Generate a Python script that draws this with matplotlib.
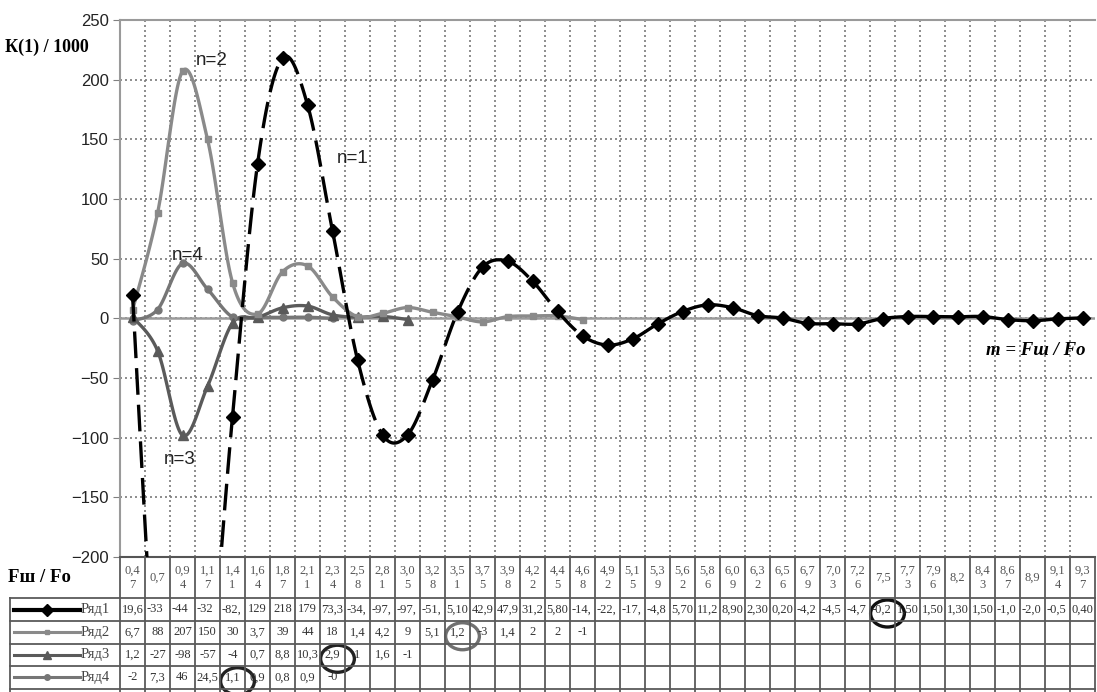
import matplotlib
matplotlib.use('Agg')
import matplotlib.pyplot as plt
import numpy as np
from matplotlib.patches import Ellipse

# Fш / Fo ratios, one per table column
ratios = [0.47, 0.7, 0.94, 1.17, 1.41, 1.64, 1.87, 2.11, 2.34, 2.58, 2.81, 3.05,
          3.28, 3.51, 3.75, 3.98, 4.22, 4.45, 4.68, 4.92, 5.15, 5.39, 5.62, 5.86,
          6.09, 6.32, 6.56, 6.79, 7.03, 7.26, 7.5, 7.73, 7.96, 8.2, 8.43, 8.67,
          8.9, 9.14, 9.37]

# K(1) / 1000 for harmonics n = 1..4
ryad1 = [19.64, -331, -442, -323, -82.41, 129, 218, 179, 73.35, -34.52, -97.53,
         -97.81, -51.72, 5.10, 42.90, 47.90, 31.20, 5.80, -14.60, -22.40, -17.30,
         -4.80, 5.70, 11.28, 8.90, 2.30, 0.20, -4.20, -4.50, -4.70, -0.20, 1.50,
         1.50, 1.30, 1.50, -1.00, -2.00, -0.50, 0.40]
ryad2 = [6.7, 88, 207, 150, 30, 3.7, 39, 44, 18, 1.4, 4.2, 9, 5.1, 1.2, -3, 1.4,
         2, 2, -1]
ryad3 = [1.2, -27, -98, -57, -4, 0.7, 8.8, 10.3, 2.9, 1, 1.6, -1]
ryad4 = [-2, 7.3, 46, 24.5, 1.1, 0.9, 0.8, 0.9, -0.0]

series = [ryad1, ryad2, ryad3, ryad4]
names = ['Ряд1', 'Ряд2', 'Ряд3', 'Ряд4']
curve_labels = ['n=1', 'n=2', 'n=3', 'n=4']
colors = ['#000000', '#8a8a8a', '#5a5a5a', '#767676']
markers = ['D', 's', '^', 'o']
msizes = [7, 4, 7, 5]

# cells ringed by hand in the table: (row, column)
ringed = [(0, 30), (1, 13), (2, 8), (3, 4)]
ring_colors = ['#111111', '#707070', '#222222', '#222222']

W, H = 1097, 692
fig = plt.figure(figsize=(W / 100, H / 100), dpi=100)
fig.patch.set_facecolor('white')

left, right, top, bottom = 120, 1095, 20, 557
ax = fig.add_axes([left / W, 1 - bottom / H, (right - left) / W, (bottom - top) / H])
ncol = len(ratios)
ax.set_xlim(0, ncol)
ax.set_ylim(-200, 250)

# pixel scale used for Excel-like smoothing
sx = (right - left) / ncol
sy = (bottom - top) / 450.0


def smooth_pieces(vals):
    """Cubic Bezier pieces between neighbouring points (Catmull-Rom tangents)."""
    n = len(vals)
    P = np.column_stack([(np.arange(n) + 0.5) * sx, np.asarray(vals) * sy])
    t = np.linspace(0, 1, 40)[:, None]
    pieces = []
    for i in range(n - 1):
        p0 = P[max(i - 1, 0)]
        p1, p2 = P[i], P[i + 1]
        p3 = P[min(i + 2, n - 1)]
        c1 = p1 + (p2 - p0) / 6
        c2 = p2 - (p3 - p1) / 6
        b = ((1 - t) ** 3) * p1 + 3 * ((1 - t) ** 2) * t * c1 + 3 * (1 - t) * t ** 2 * c2 + t ** 3 * p2
        pieces.append((b[:, 0] / sx, b[:, 1] / sy))
    return pieces


ax.set_yticks(range(-200, 251, 50))
ax.set_xticks(np.arange(1, ncol))
ax.tick_params(axis='x', length=0, labelbottom=False)
ax.tick_params(axis='y', length=5, color='#808080', labelsize=12, labelcolor='#222222', pad=3)
for lab in ax.get_yticklabels():
    lab.set_fontfamily('Liberation Sans')
ax.grid(True, color='#7a7a7a', linestyle=(0, (1.2, 1.8)), linewidth=1.2)
ax.set_axisbelow(True)
for side in ['top', 'left']:
    ax.spines[side].set_color('#9a9a9a')
    ax.spines[side].set_linewidth(1.5)
ax.spines['right'].set_visible(False)
ax.spines['bottom'].set_color('#555555')
ax.spines['bottom'].set_linewidth(1.5)
ax.axhline(0, color='#9a9a9a', linewidth=1.8, zorder=1.5)

# curves: n=1 dashed (pattern restarts on every segment), the rest solid
for k in range(len(series) - 1, -1, -1):
    vals = series[k]
    xs = np.arange(len(vals)) + 0.5
    z = 4 if k == 0 else 3
    for px, py in smooth_pieces(vals):
        if k == 0:
            ax.plot(px, py, color=colors[k], linewidth=2.4, dashes=(8, 3),
                    solid_capstyle='butt', dash_capstyle='butt', zorder=z)
        else:
            ax.plot(px, py, color=colors[k], linewidth=2.4, zorder=z)
    ax.plot(xs, vals, linestyle='none', marker=markers[k], markersize=msizes[k],
            color=colors[k], zorder=z + 0.1)

label_pos = [(9.3, 134), (3.65, 216), (2.4, -118), (2.7, 53)]
for lab, (lx, ly) in zip(curve_labels, label_pos):
    ax.text(lx, ly, lab, fontsize=13.5, family='Liberation Sans', color='#222222',
            ha='center', va='center')
ax.text(38.6, -27, 'm = Fш / Fo', fontsize=13.5, family='Liberation Serif',
        fontweight='bold', fontstyle='italic', ha='right', va='center')

fig.text(5 / W, 1 - 47 / H, 'К(1) / 1000', fontsize=13, family='Liberation Serif',
         fontweight='bold', ha='left', va='center')

# data table under the plot
tab_h = H - bottom
tax = fig.add_axes([left / W, 0, (right - left) / W, tab_h / H])
tax.set_xlim(0, ncol)
tax.set_ylim(tab_h, 0)
tax.axis('off')

row_edges = [41, 64, 86.5, 109, 131.5]
leg_left = (10 - left) / sx
line_kw = dict(color='#5a5a5a', linewidth=1.3, clip_on=False)
for i in range(ncol + 1):
    tax.plot([i, i], [0, tab_h], **line_kw)
for y in row_edges:
    tax.plot([leg_left, ncol], [y, y], **line_kw)
tax.plot([leg_left, leg_left], [row_edges[0], tab_h], **line_kw)

fig.text(8 / W, 1 - 577 / H, 'Fш / Fo', fontsize=13.5, family='Liberation Serif',
         fontweight='bold', ha='left', va='center')

renderer = fig.canvas.get_renderer()
avail = sx - 2.5


def cell_text(col, y0, y1, s, color):
    # a value too wide for its cell is left-aligned and cut off at the border
    yc = (y0 + y1) / 2
    t = tax.text(col + 0.5, yc, s, fontsize=9, family='Liberation Serif', color=color,
                 ha='center', va='center', linespacing=1.25, clip_on=False)
    if t.get_window_extent(renderer).width > avail:
        t.set_horizontalalignment('left')
        t.set_x(col + 0.06)
        while len(s) > 1 and t.get_window_extent(renderer).width > avail:
            s = s[:-1]
            t.set_text(s)


for i, r in enumerate(ratios):
    s = f'{r:g}'.replace('.', ',')
    if len(s) > 3:
        s = s[:3] + '\n' + s[3:]
    cell_text(i, 0, row_edges[0], s, '#555555')

for k, vals in enumerate(series):
    y0, y1 = row_edges[k], row_edges[k + 1] if k + 1 < len(row_edges) else tab_h
    for i, v in enumerate(vals):
        if k == 0 and i >= 13:
            s = f'{v:.2f}'
        else:
            s = f'{v:g}'
        cell_text(i, y0, y1, s.replace('.', ','), '#333333')
    # legend key in the left column
    yc = (y0 + y1) / 2
    kx0, kx1 = (14 - left) / sx, (80 - left) / sx
    tax.plot([kx0, kx1], [yc, yc], color=colors[k], linewidth=3 if k == 0 else 2.2,
             clip_on=False)
    tax.plot([(kx0 + kx1) / 2], [yc], marker=markers[k], markersize=msizes[k] - 1,
             color=colors[k], clip_on=False)
    tax.text((81 - left) / sx, yc, names[k], fontsize=10.5, family='Liberation Serif',
             color='#444444', ha='left', va='center', clip_on=False)

for (row, col), rc in zip(ringed, ring_colors):
    y0 = row_edges[row]
    y1 = row_edges[row + 1] if row + 1 < len(row_edges) else tab_h
    tax.add_patch(Ellipse((col + 0.7, (y0 + y1) / 2 + 4), 1.35, 27, fill=False,
                          edgecolor=rc, linewidth=2.4, clip_on=False))

fig.savefig('out.png', dpi=100)
